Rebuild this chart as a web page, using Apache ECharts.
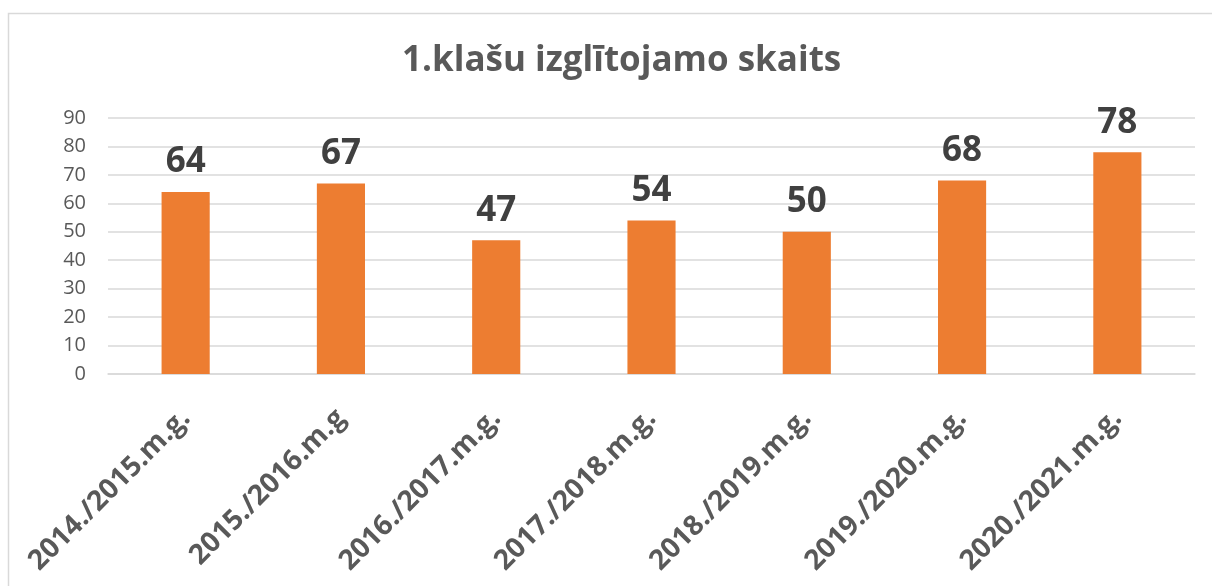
<!DOCTYPE html>
<html>
<head>
<meta charset="utf-8">
<script src="https://cdn.jsdelivr.net/npm/echarts@6/dist/echarts.min.js"></script>
<style>
  html, body { margin: 0; padding: 0; background: #fff; }
  #chart { width: 1212px; height: 586px; }
</style>
</head>
<body>
<div id="chart"></div>
<script>
  // dati
  const categories = ['2014./2015.m.g.', '2015./2016.m.g', '2016./2017.m.g.', '2017./2018.m.g.', '2018./2019.m.g.', '2019./2020.m.g.', '2020./2021.m.g.'];
  const values = [64, 67, 47, 54, 50, 68, 78];
  const yTicks = { min: 0, max: 90, step: 10 };

  const font = '"Open Sans", sans-serif';
  const chart = echarts.init(document.getElementById('chart'));

  chart.setOption({
    animation: false,
    textStyle: { fontFamily: font },
    graphic: [{
      type: 'rect',
      shape: { x: 8.5, y: 13.5, width: 1220, height: 600 },
      style: { fill: 'none', stroke: '#d9d9d9', lineWidth: 1.5 },
      silent: true
    }],
    title: {
      text: '1.klašu izglītojamo skaits',
      left: 397,
      top: 39,
      textStyle: { fontFamily: font, fontSize: 35, fontWeight: 'bold', color: '#595959' }
    },
    grid: { left: 108, right: 17, top: 118, bottom: 212 },
    xAxis: {
      type: 'category',
      data: categories,
      axisLine: { lineStyle: { color: '#d9d9d9', width: 1.5 } },
      axisTick: { show: false },
      axisLabel: {
        rotate: 45,
        interval: 0,
        margin: 40,
        fontFamily: font,
        fontSize: 28,
        fontWeight: 'bold',
        color: '#595959'
      }
    },
    yAxis: {
      type: 'value',
      min: yTicks.min,
      max: yTicks.max,
      interval: yTicks.step,
      axisLine: { show: false },
      axisTick: { show: false },
      splitLine: { lineStyle: { color: '#d9d9d9', width: 1.5 } },
      axisLabel: { fontFamily: font, fontSize: 20, color: '#595959', margin: 22 }
    },
    series: [{
      type: 'bar',
      data: values,
      barWidth: '31%',
      itemStyle: { color: '#ED7D31' },
      label: {
        show: true,
        position: 'top',
        distance: 12,
        fontFamily: font,
        fontSize: 35,
        fontWeight: 'bold',
        color: '#404040'
      }
    }]
  });
</script>
</body>
</html>
